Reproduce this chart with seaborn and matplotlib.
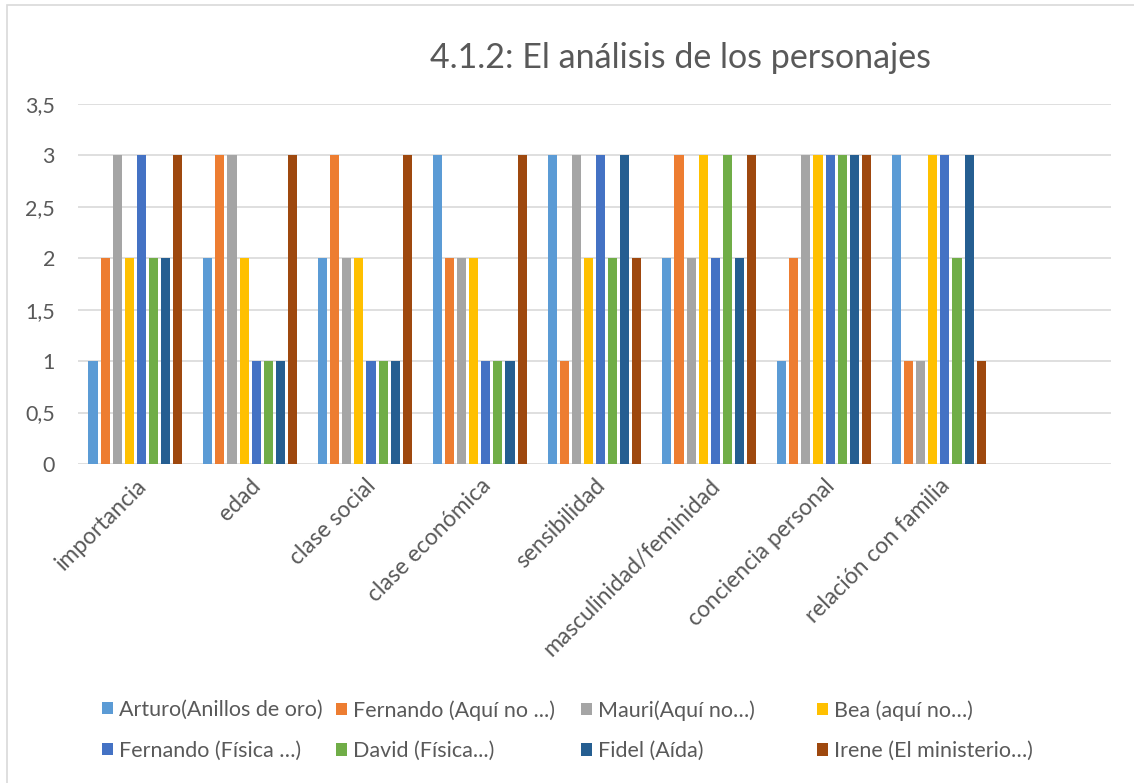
import matplotlib
matplotlib.use("Agg")
import matplotlib.pyplot as plt
import matplotlib.patches as mpatches
import seaborn as sns
import pandas as pd

categories = ["importancia", "edad", "clase social", "clase económica", "sensibilidad",
              "masculinidad/feminidad", "conciencia personal", "relación con familia"]
series = ["Arturo(Anillos de oro)", "Fernando (Aquí no ...)", "Mauri(Aquí no…)", "Bea (aquí no…)",
          "Fernando (Física …)", "David (Física...)", "Fidel (Aída)", "Irene (El ministerio…)"]
arturo = [1, 2, 2, 3, 3, 2, 1, 3]
fernando_aqui = [2, 3, 3, 2, 1, 3, 2, 1]
mauri = [3, 3, 2, 2, 3, 2, 3, 1]
bea = [2, 2, 2, 2, 2, 3, 3, 3]
fernando_fisica = [3, 1, 1, 1, 3, 2, 3, 3]
david = [2, 1, 1, 1, 2, 3, 3, 2]
fidel = [2, 1, 1, 1, 3, 2, 3, 3]
irene = [3, 3, 3, 3, 2, 3, 3, 1]
yticks = [0, 0.5, 1, 1.5, 2, 2.5, 3, 3.5]
ytick_labels = ["0", "0,5", "1", "1,5", "2", "2,5", "3", "3,5"]
title = "4.1.2: El análisis de los personajes"

colors = ["#5B9BD5", "#ED7D31", "#A5A5A5", "#FFC000", "#4472C4", "#70AD47", "#255E91", "#9E480E"]

values = [arturo, fernando_aqui, mauri, bea, fernando_fisica, david, fidel, irene]
rows = []
for s, vals in zip(series, values):
    for c, v in zip(categories, vals):
        rows.append({"cat": c, "serie": s, "valor": v})
df = pd.DataFrame(rows)

sns.set_style("white")
plt.rcParams["font.family"] = ["Lato", "DejaVu Sans"]

W, H = 1134, 783
fig = plt.figure(figsize=(W / 100, H / 100), dpi=100)
ax = fig.add_axes([78 / W, 1 - 464 / H, (1111 - 78) / W, (464 - 104) / H])

order = categories + [""]
sns.barplot(data=df, x="cat", y="valor", hue="serie", order=order, hue_order=series,
            palette=colors, saturation=1, width=0.845, ax=ax, linewidth=0,
            legend=True)

# leave a thin white gap between neighbouring bars, as in the original
for p in ax.patches:
    w = p.get_width()
    p.set_x(p.get_x() + w * 0.125)
    p.set_width(w * 0.75)

ax.set_ylim(0, 3.5)
ax.set_xlim(-0.5, len(order) - 0.5)
ax.set_yticks(yticks)
ax.set_yticklabels(ytick_labels, fontsize=15.5, color="#595959")
ax.yaxis.grid(True, color="#D9D9D9", linewidth=1.2)
ax.set_axisbelow(True)
for sp in ax.spines.values():
    sp.set_visible(False)
ax.tick_params(axis="both", length=0)
ax.tick_params(axis="y", pad=16.5)
ax.set_xlabel("")
ax.set_ylabel("")
ax.set_xticks(range(len(categories)))
ax.set_xticklabels(categories, rotation=45, ha="right", rotation_mode="anchor",
                   fontsize=16.5, color="#595959")
ax.tick_params(axis="x", pad=8)

handles, labels = ax.get_legend_handles_labels()
ax.get_legend().remove()

col_x = [102, 336, 581, 817]
for j in range(4):
    ls = [labels[j], labels[j + 4]]
    hs = [mpatches.Patch(facecolor=colors[k], edgecolor="none") for k in (j, j + 4)]
    fig.legend(hs, ls, loc="upper left", bbox_to_anchor=(col_x[j] / W, 1 - 700 / H),
               frameon=False, fontsize=15.5, labelcolor="#595959",
               handlelength=0.5, handleheight=0.5, handletextpad=0.3,
               labelspacing=0.95, borderpad=0, borderaxespad=0)

fig.text(681 / W, 1 - 58 / H, title, ha="center", va="center", fontsize=24.5, color="#595959")

frame = mpatches.Rectangle((7 / W, -0.01), 1.0, 1 - 5 / H + 0.01, transform=fig.transFigure,
                           fill=False, edgecolor="#D9D9D9", linewidth=1.2)
fig.patches.append(frame)

fig.savefig("out.png", dpi=100)
